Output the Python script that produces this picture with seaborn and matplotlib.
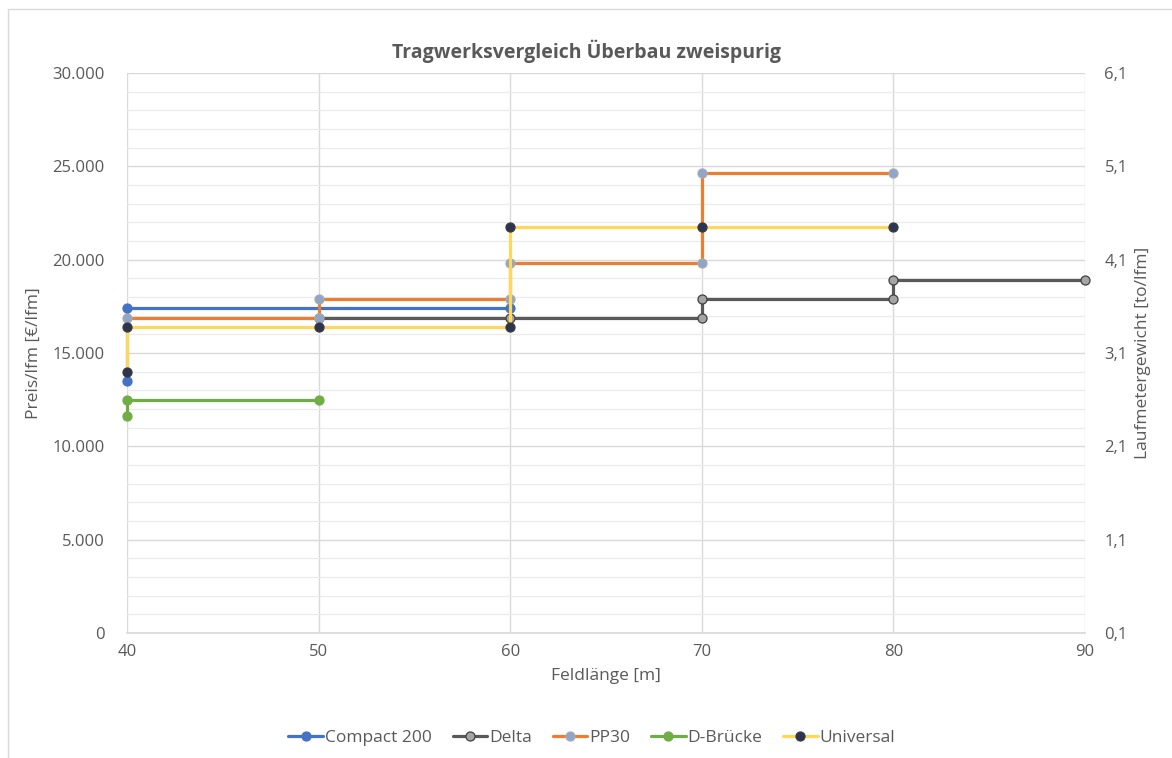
import numpy as np
import pandas as pd
import matplotlib
matplotlib.use("Agg")
import matplotlib.pyplot as plt
from matplotlib.ticker import FuncFormatter, MultipleLocator
from matplotlib.patches import Rectangle
import seaborn as sns

# Daten
compact_x = [40, 40, 60]
compact_y = [13500, 17400, 17400]

delta_x = [50, 60, 70, 70, 80, 80, 90]
delta_y = [16900, 16900, 16900, 17900, 17900, 18900, 18900]

pp30_x = [40, 50, 50, 60, 60, 70, 70, 80]
pp30_y = [16900, 16900, 17900, 17900, 19800, 19800, 24650, 24650]

dbruecke_x = [40, 40, 50]
dbruecke_y = [11600, 12500, 12500]

universal_x = [40, 40, 50, 60, 60, 70, 80]
universal_y = [14000, 16400, 16400, 16400, 21750, 21750, 21750]

series_names = ["Compact 200", "Delta", "PP30", "D-Brücke", "Universal"]
right_ticks = [0.1, 1.1, 2.1, 3.1, 4.1, 5.1, 6.1]

sns.set_theme(style="white")
plt.rcParams['font.family'] = ['Open Sans', 'DejaVu Sans']

TXT = "#595959"
GRID = "#D9D9D9"

fig = plt.figure(figsize=(11.72, 7.58), dpi=100)
ax = fig.add_axes([127 / 1172, 1 - 633 / 758, (1085 - 127) / 1172, (633 - 73) / 758])

styles = {
    "Compact 200": dict(color="#4472C4", mfc="#4472C4", mec="#4472C4"),
    "Delta": dict(color="#595959", mfc="#A5A5A5", mec="#404040"),
    "PP30": dict(color="#ED7D31", mfc="#8EA6C9", mec="#A9A9B0"),
    "D-Brücke": dict(color="#70AD47", mfc="#70AD47", mec="#70AD47"),
    "Universal": dict(color="#FFD75A", mfc="#2B3452", mec="#3A3A3A"),
}
data = {
    "Compact 200": (compact_x, compact_y),
    "Delta": (delta_x, delta_y),
    "PP30": (pp30_x, pp30_y),
    "D-Brücke": (dbruecke_x, dbruecke_y),
    "Universal": (universal_x, universal_y),
}

for name in series_names:
    xs, ys = data[name]
    df = pd.DataFrame({"x": xs, "y": ys})
    st = styles[name]
    sns.lineplot(data=df, x="x", y="y", sort=False, estimator=None, ax=ax,
                 color=st["color"], linewidth=2.3, marker="o", markersize=6.5,
                 markerfacecolor=st["mfc"], markeredgecolor=st["mec"],
                 markeredgewidth=0.9, label=name, legend=False, clip_on=False)

ax.set_xlim(40, 90)
ax.set_ylim(0, 30000)
ax.xaxis.set_major_locator(MultipleLocator(10))
ax.yaxis.set_major_locator(MultipleLocator(5000))
ax.yaxis.set_minor_locator(MultipleLocator(1000))
ax.yaxis.set_major_formatter(FuncFormatter(lambda v, p: f"{int(v):,}".replace(",", ".")))
ax.grid(True, which="major", axis="both", color=GRID, linewidth=1.0)
ax.grid(True, which="minor", axis="y", color="#EBEBEB", linewidth=0.9)
ax.set_axisbelow(True)
for s in ["top", "right", "left"]:
    ax.spines[s].set_visible(False)
ax.spines["bottom"].set_color(GRID)
ax.tick_params(axis="both", which="both", length=0, colors=TXT, labelsize=12)
ax.tick_params(axis="y", pad=16)
ax.tick_params(axis="x", pad=8)
ax.set_xlabel("Feldlänge [m]", color=TXT, fontsize=12.5, labelpad=6)
ax.set_ylabel("Preis/lfm [€/lfm]", color=TXT, fontsize=12.5)
ax.yaxis.set_label_coords(-0.089, 0.5)

ax2 = ax.twinx()
ax2.set_ylim(0.1, 6.1)
ax2.set_yticks(right_ticks)
ax2.yaxis.set_major_formatter(FuncFormatter(lambda v, p: f"{v:.1f}".replace(".", ",")))
for s in ax2.spines.values():
    s.set_visible(False)
ax2.tick_params(axis="y", length=0, colors=TXT, labelsize=12, pad=14)
ax2.set_ylabel("Laufmetergewicht [to/lfm]", color=TXT, fontsize=12.5)
ax2.yaxis.set_label_coords(1.052, 0.5)
ax2.grid(False)

fig.suptitle("Tragwerksvergleich Überbau zweispurig", y=1 - 40 / 758, fontsize=14,
             fontweight="bold", color=TXT)

handles, labels = ax.get_legend_handles_labels()
fig.legend(handles, labels, loc="center", bbox_to_anchor=(0.505, 1 - 738 / 758), ncol=5,
           frameon=False, fontsize=12.5, handlelength=2.0, handletextpad=0.1,
           columnspacing=1.2, labelcolor=TXT)

fig.patches.append(Rectangle((8 / 1172, -0.01), 1.0, 1 - 9 / 758 + 0.01, transform=fig.transFigure,
                             fill=False, edgecolor="#D9D9D9", linewidth=1.0))

fig.savefig("out.png", dpi=100)
